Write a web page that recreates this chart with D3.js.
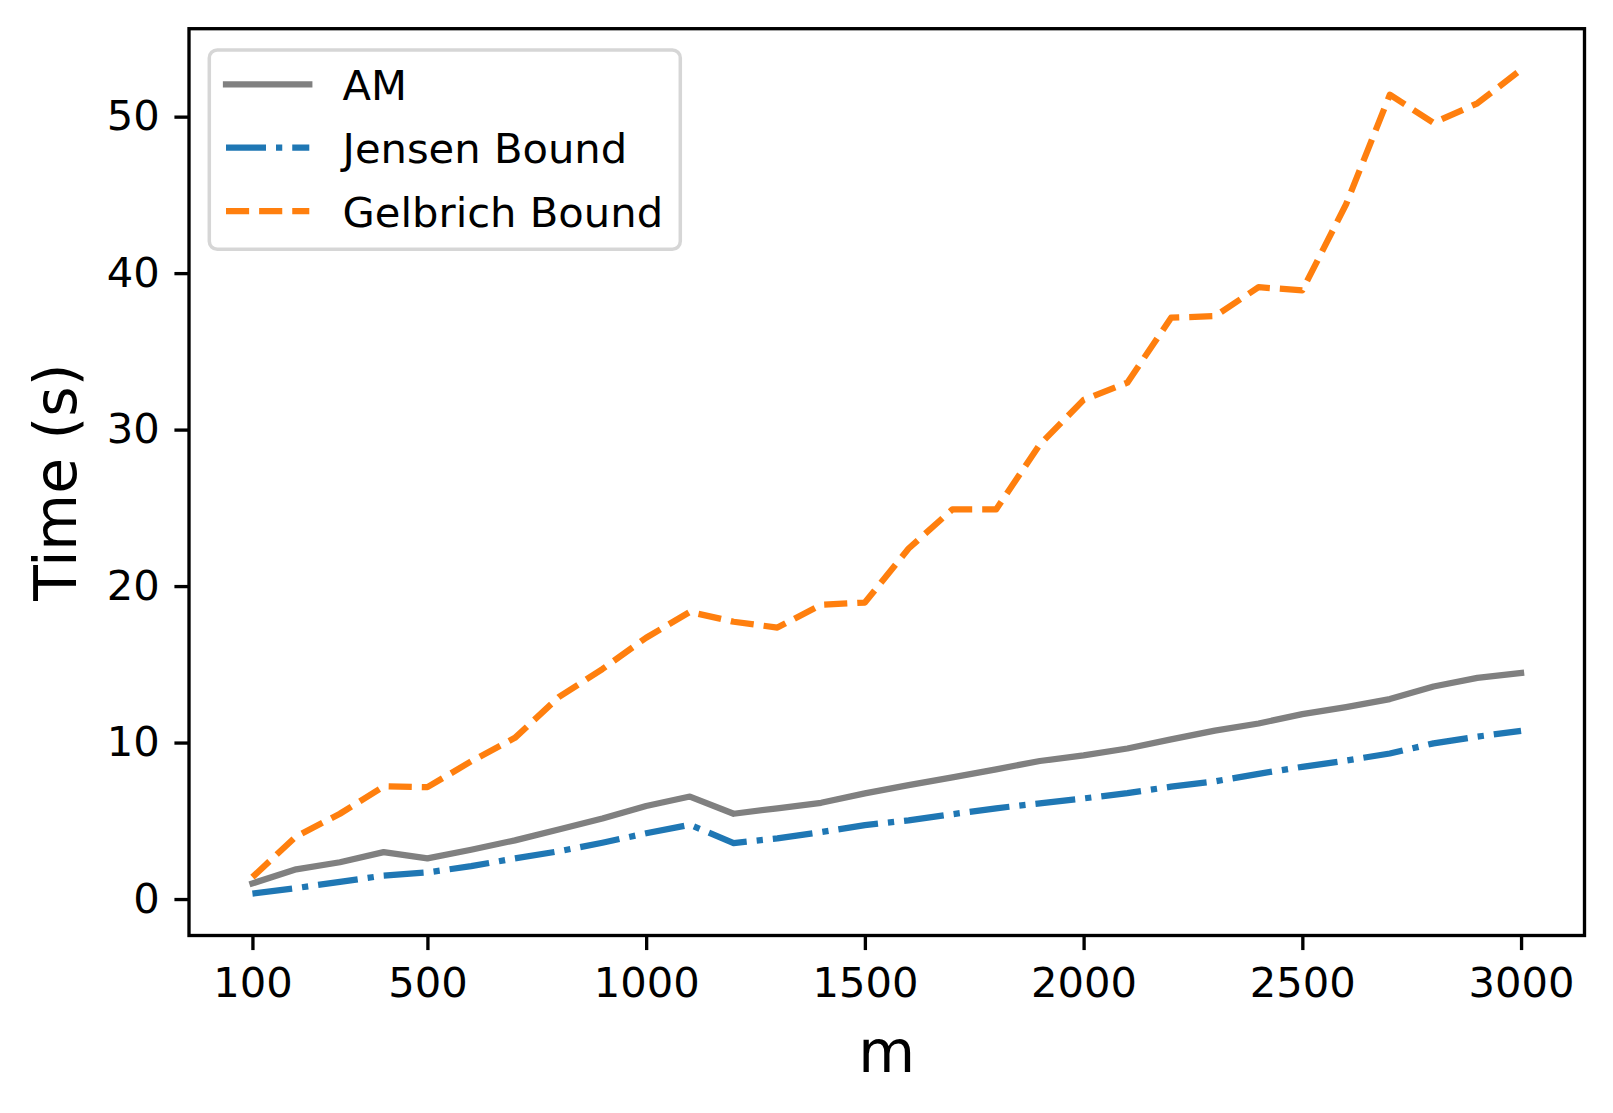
<!DOCTYPE html>
<html>
<head>
<meta charset="utf-8">
<script src="https://cdn.jsdelivr.net/npm/d3@7"></script>
<style>
  html, body { margin: 0; padding: 0; background: #fff; }
  svg { display: block; font-family: "DejaVu Sans", sans-serif; }
</style>
</head>
<body>
<svg id="chart" width="1613" height="1113"></svg>
<script>
// ---- data ----
const mValues = [100, 200, 300, 400, 500, 600, 700, 800, 900, 1000,
                 1100, 1200, 1300, 1400, 1500, 1600, 1700, 1800, 1900, 2000,
                 2100, 2200, 2300, 2400, 2500, 2600, 2700, 2800, 2900, 3000];
const amTimes = [1.0, 1.9, 2.35, 3.0, 2.6, 3.15, 3.75, 4.45, 5.15, 5.95,
                 6.55, 5.45, 5.8, 6.15, 6.75, 7.28, 7.78, 8.29, 8.82, 9.18,
                 9.62, 10.2, 10.76, 11.22, 11.82, 12.27, 12.78, 13.58, 14.13, 14.45];
const jensenTimes = [0.35, 0.7, 1.1, 1.5, 1.7, 2.1, 2.6, 3.05, 3.6, 4.2,
                     4.75, 3.58, 3.88, 4.28, 4.72, 5.03, 5.42, 5.8, 6.12, 6.43,
                     6.77, 7.18, 7.52, 8.0, 8.45, 8.85, 9.3, 9.95, 10.38, 10.75];
const gelbrichTimes = [1.4, 4.0, 5.45, 7.2, 7.15, 8.8, 10.3, 12.9, 14.7, 16.7,
                       18.35, 17.72, 17.35, 18.8, 18.95, 22.4, 24.9, 24.9, 29.05, 31.9,
                       33.0, 37.15, 37.25, 39.1, 38.9, 44.4, 51.4, 49.6, 50.85, 53.0];
const xTicks = [100, 500, 1000, 1500, 2000, 2500, 3000];
const yTicks = [0, 10, 20, 30, 40, 50];
const seriesNames = ["AM", "Jensen Bound", "Gelbrich Bound"];

// ---- layout ----
const L = 189, R = 1584.5, T = 28.7, B = 935.5;
const pt = 300 / 72;              // px per point (300 dpi)
const lw = 1.5 * pt;              // line width
const tickLen = 3.5 * pt;
const spineW = 0.8 * pt;
const fsTick = 10 * pt, fsLabel = 14 * pt;

const svg = d3.select("#chart");

const x = d3.scaleLinear().domain([-45, 3145]).range([L, R]);
const y = d3.scaleLinear().domain([-2.33, 55.62]).range([B, T]);

const series = [
  { name: seriesNames[0], values: amTimes, color: "#808080", dash: null, cap: "square" },
  { name: seriesNames[1], values: jensenTimes, color: "#1f77b4",
    dash: [6.4 * 1.5 * pt, 1.6 * 1.5 * pt, 1 * 1.5 * pt, 1.6 * 1.5 * pt].join(","), cap: "butt" },
  { name: seriesNames[2], values: gelbrichTimes, color: "#ff7f0e",
    dash: [3.7 * 1.5 * pt, 1.6 * 1.5 * pt].join(","), cap: "butt" }
];

const line = d3.line().x(d => x(d[0])).y(d => y(d[1]));

const gLines = svg.append("g");
series.forEach(s => {
  gLines.append("path")
    .datum(mValues.map((m, i) => [m, s.values[i]]))
    .attr("d", line)
    .attr("fill", "none")
    .attr("stroke", s.color)
    .attr("stroke-width", lw)
    .attr("stroke-linejoin", "round")
    .attr("stroke-linecap", s.cap)
    .attr("stroke-dasharray", s.dash);
});

// ---- axes ----
const xAxis = d3.axisBottom(x).tickValues(xTicks).tickSize(tickLen).tickPadding(17.3)
  .tickFormat(d3.format("d"));
const gx = svg.append("g").attr("transform", `translate(0,${B})`).call(xAxis);
gx.select(".domain").remove();
gx.selectAll(".tick line").attr("stroke", "#000").attr("stroke-width", spineW);
gx.selectAll(".tick text").attr("font-size", fsTick).attr("fill", "#000")
  .attr("font-family", "DejaVu Sans");

const yAxis = d3.axisLeft(y).tickValues(yTicks).tickSize(tickLen).tickPadding(tickLen)
  .tickFormat(d3.format("d"));
const gy = svg.append("g").attr("transform", `translate(${L},0)`).call(yAxis);
gy.select(".domain").remove();
gy.selectAll(".tick line").attr("stroke", "#000").attr("stroke-width", spineW);
gy.selectAll(".tick text").attr("font-size", fsTick).attr("fill", "#000")
  .attr("font-family", "DejaVu Sans");

// frame (spines)
svg.append("rect")
  .attr("x", L).attr("y", T).attr("width", R - L).attr("height", B - T)
  .attr("fill", "none").attr("stroke", "#000").attr("stroke-width", spineW)
  .attr("stroke-linejoin", "miter");

// axis labels
svg.append("text")
  .attr("x", (L + R) / 2).attr("y", 1072)
  .attr("text-anchor", "middle").attr("font-size", fsLabel).attr("fill", "#000")
  .text("m");
svg.append("text")
  .attr("transform", `translate(76,${(T + B) / 2}) rotate(-90)`)
  .attr("text-anchor", "middle").attr("font-size", fsLabel).attr("fill", "#000")
  .text("Time (s)");

// ---- legend ----
const lg = svg.append("g");
lg.append("rect")
  .attr("x", 209.3).attr("y", 50).attr("width", 471).attr("height", 199.3)
  .attr("rx", 8).attr("ry", 8)
  .attr("fill", "#fff").attr("fill-opacity", 0.8)
  .attr("stroke", "#cccccc").attr("stroke-opacity", 0.8).attr("stroke-width", 3.5);
const rowY = [84.3, 147.7, 211];
const baseY = [100, 163.3, 226.6];
series.forEach((s, i) => {
  lg.append("line")
    .attr("x1", 226).attr("x2", 309.3).attr("y1", rowY[i]).attr("y2", rowY[i])
    .attr("stroke", s.color).attr("stroke-width", lw)
    .attr("stroke-linecap", s.cap)
    .attr("stroke-dasharray", s.dash);
  lg.append("text")
    .attr("x", 342.6).attr("y", baseY[i])
    .attr("font-size", fsTick).attr("fill", "#000")
    .text(s.name);
});
</script>
</body>
</html>
